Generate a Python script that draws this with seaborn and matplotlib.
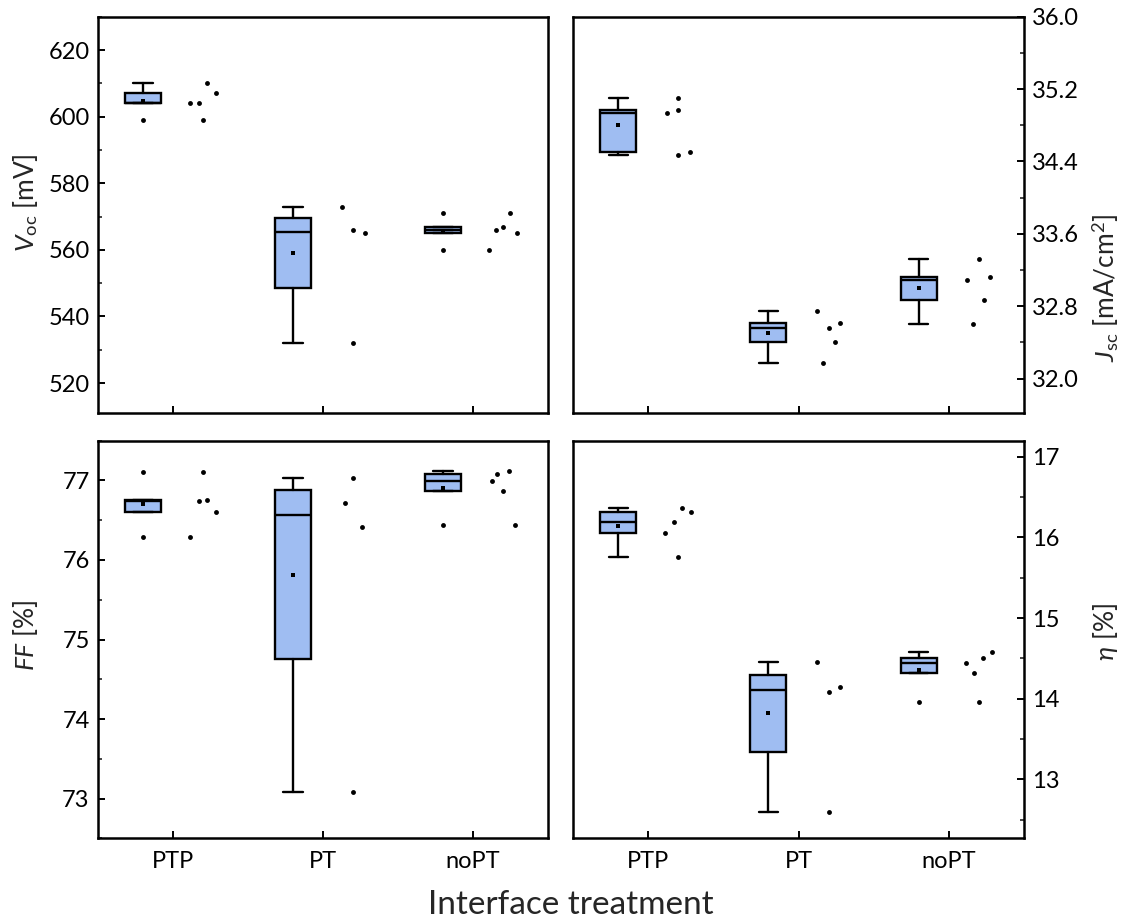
import numpy as np
import pandas as pd
import seaborn as sns
import matplotlib.pyplot as plt
from matplotlib.ticker import MultipleLocator, FormatStrFormatter

groups = ["PTP", "PT", "noPT"]

voc_ptp = [610, 607, 604, 604, 599]
voc_pt = [573, 566, 565, 532]
voc_nopt = [571, 567, 566, 565, 560]

jsc_ptp = [35.10, 34.97, 34.94, 34.47, 34.51]
jsc_pt = [32.75, 32.56, 32.62, 32.40, 32.17]
jsc_nopt = [33.32, 33.09, 33.12, 32.87, 32.60]

ff_ptp = [77.11, 76.74, 76.75, 76.60, 76.29]
ff_pt = [77.03, 76.72, 76.42, 73.08]
ff_nopt = [77.12, 77.08, 76.99, 76.87, 76.44]

eta_ptp = [16.37, 16.32, 16.19, 16.06, 15.76]
eta_pt = [14.45, 14.09, 14.14, 12.60]
eta_nopt = [14.44, 14.32, 14.51, 14.58, 13.96]

# horizontal spread of the raw-data dots (category units, right of the tick)
voc_jit = [[0.229, 0.287, 0.116, 0.173, 0.202], [0.127, 0.2, 0.278, 0.2], [0.247, 0.2, 0.156, 0.293, 0.109]]
jsc_jit = [[0.198, 0.198, 0.122, 0.198, 0.276], [0.124, 0.2, 0.278, 0.24, 0.164], [0.198, 0.122, 0.273, 0.236, 0.16]]
ff_jit = [[0.202, 0.173, 0.229, 0.287, 0.116], [0.2, 0.144, 0.26, 0.2], [0.24, 0.162, 0.127, 0.202, 0.278]]
eta_jit = [[0.227, 0.284, 0.169, 0.111, 0.198], [0.122, 0.2, 0.276, 0.2], [0.113, 0.169, 0.229, 0.284, 0.198]]

metrics = {
    "voc": ([voc_ptp, voc_pt, voc_nopt], voc_jit),
    "jsc": ([jsc_ptp, jsc_pt, jsc_nopt], jsc_jit),
    "ff": ([ff_ptp, ff_pt, ff_nopt], ff_jit),
    "eta": ([eta_ptp, eta_pt, eta_nopt], eta_jit),
}

# long-form table
rows = []
for m, (series, jit) in metrics.items():
    for i, (g, vals, offs) in enumerate(zip(groups, series, jit)):
        for v, o in zip(vals, offs):
            rows.append({"metric": m, "treatment": g, "pos": i, "offset": o, "value": v})
df = pd.DataFrame(rows)
df["x"] = df["pos"] + df["offset"]

sns.set_style("ticks")
plt.rcParams["font.family"] = ["Lato", "DejaVu Sans"]
plt.rcParams["mathtext.fontset"] = "custom"
plt.rcParams["mathtext.rm"] = "Lato"
plt.rcParams["mathtext.it"] = "Lato:italic"
plt.rcParams["mathtext.bf"] = "Lato:bold"

BOX_COLOR = "#9FBDF2"
LW = 1.7
DOT = 3.5


def box_stats(vals):
    # quartiles as hinge midpoints, whiskers at 1.5 IQR
    vals = np.asarray(vals, dtype=float)
    q1, med, q3 = np.percentile(vals, [25, 50, 75], method="midpoint")
    iqr = q3 - q1
    inside = vals[(vals >= q1 - 1.5 * iqr) & (vals <= q3 + 1.5 * iqr)]
    lo, hi = inside.min(), inside.max()
    return {"med": med, "q1": q1, "q3": q3, "whislo": lo, "whishi": hi,
            "mean": vals.mean(), "fliers": vals[(vals < lo) | (vals > hi)]}


W, H = 1126, 924


def rect(x0, y0, x1, y1):
    return [x0 / W, 1 - y1 / H, (x1 - x0) / W, (y1 - y0) / H]


fig = plt.figure(figsize=(W / 100, H / 100), dpi=100)
axes = {
    "voc": fig.add_axes(rect(98, 16.7, 548, 413)),
    "jsc": fig.add_axes(rect(573, 16.7, 1024, 413)),
    "ff": fig.add_axes(rect(98, 440.7, 548, 838.3)),
    "eta": fig.add_axes(rect(573, 440.7, 1024, 838.3)),
}

settings = {
    "voc": dict(ylim=(511, 630), major=20, minor=10, fmt="%d",
                label=r"$V_{\mathrm{oc}}$ [mV]", side="left", ly=0.53),
    "jsc": dict(ylim=(31.62, 36.0), major=0.8, minor=0.4, fmt="%.1f",
                label=r"$J_{\mathrm{sc}}$ [mA/cm$^{2}$]", side="right", ly=0.315),
    "ff": dict(ylim=(72.5, 77.5), major=1, minor=0.5, fmt="%d",
               label=r"$FF$ [%]", side="left", ly=0.51),
    "eta": dict(ylim=(12.27, 17.2), major=1, minor=0.5, fmt="%d",
                label=r"$\eta$ [%]", side="right", ly=0.518),
}

for m, ax in axes.items():
    series, _ = metrics[m]
    st = settings[m]
    stats = [box_stats(v) for v in series]
    ax.bxp(stats, positions=np.arange(len(groups)) - 0.2, widths=0.24, capwidths=0.127,
           patch_artist=True, showmeans=True, manage_ticks=False,
           boxprops=dict(facecolor=BOX_COLOR, edgecolor="black", linewidth=LW),
           medianprops=dict(color="black", linewidth=LW),
           whiskerprops=dict(color="black", linewidth=LW),
           capprops=dict(color="black", linewidth=LW),
           flierprops=dict(marker="o", markerfacecolor="black", markeredgecolor="black",
                           markeredgewidth=0, markersize=DOT),
           meanprops=dict(marker="s", markerfacecolor="black", markeredgecolor="black",
                          markeredgewidth=0, markersize=2.3))
    sub = df[df["metric"] == m]
    sns.scatterplot(data=sub, x="x", y="value", ax=ax, color="black", s=DOT ** 2,
                    linewidth=0, legend=False, zorder=4)

    ax.set_xlim(-0.5, 2.5)
    ax.set_ylim(*st["ylim"])
    ax.set_xticks(range(len(groups)))
    ax.yaxis.set_major_locator(MultipleLocator(st["major"]))
    ax.yaxis.set_minor_locator(MultipleLocator(st["minor"]))
    ax.yaxis.set_major_formatter(FormatStrFormatter(st["fmt"]))
    ax.set_xlabel("")

    for sp in ax.spines.values():
        sp.set_linewidth(1.8)
        sp.set_color("black")

    ax.tick_params(axis="both", which="major", direction="in", length=5, width=1.4,
                   labelsize=17, colors="black", pad=6)
    ax.tick_params(axis="y", which="minor", direction="in", length=3, width=1.2)
    ax.tick_params(axis="x", which="major", pad=9)

    if m in ("voc", "jsc"):
        ax.set_xticklabels([])
    else:
        ax.set_xticklabels(groups)

    if st["side"] == "right":
        ax.yaxis.tick_right()
        ax.yaxis.set_label_position("right")
        ax.tick_params(axis="y", which="both", left=False, right=True,
                       labelleft=False, labelright=True)
        ax.set_ylabel(st["label"], fontsize=19, rotation=90, va="center", ha="center")
        ax.yaxis.set_label_coords(1.18, st["ly"])
    else:
        ax.set_ylabel(st["label"], fontsize=19, rotation=90, va="center", ha="center")
        ax.yaxis.set_label_coords(-0.16, st["ly"])

fig.text(571 / W, 1 - 905 / H, "Interface treatment", ha="center", va="center", fontsize=24)

fig.savefig("out.png", dpi=100)
